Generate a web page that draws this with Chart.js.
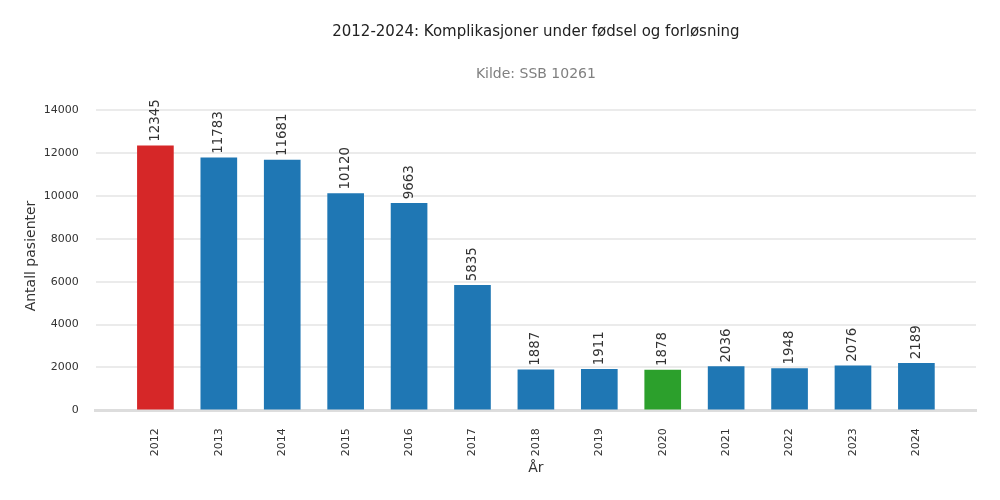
<!DOCTYPE html>
<html>
<head>
<meta charset="utf-8">
<script src="https://cdn.jsdelivr.net/npm/chart.js@4/dist/chart.umd.min.js"></script>
<style>
  html, body { margin: 0; padding: 0; background: #fff; }
  #wrap { width: 1000px; height: 500px; }
</style>
</head>
<body>
<div id="wrap"><canvas id="mycanvas"></canvas></div>
<script>
// data
var years = ['2012','2013','2014','2015','2016','2017','2018','2019','2020','2021','2022','2023','2024'];
var patients = [12345, 11783, 11681, 10120, 9663, 5835, 1887, 1911, 1878, 2036, 1948, 2076, 2189];
var barColors = ['#d62728','#1f77b4','#1f77b4','#1f77b4','#1f77b4','#1f77b4','#1f77b4','#1f77b4','#2ca02c','#1f77b4','#1f77b4','#1f77b4','#1f77b4'];
var yTicks = [0, 2000, 4000, 6000, 8000, 10000, 12000, 14000];

Chart.defaults.font.family = '"DejaVu Sans", sans-serif';
Chart.defaults.color = '#333';

// values written above each bar, turned on their side
var barLabels = {
  id: 'barLabels',
  afterDatasetsDraw: function(chart) {
    var ctx = chart.ctx;
    var meta = chart.getDatasetMeta(0);
    ctx.save();
    ctx.font = '13.4px "DejaVu Sans", sans-serif';
    ctx.fillStyle = '#333';
    ctx.textAlign = 'left';
    ctx.textBaseline = 'middle';
    meta.data.forEach(function(bar, i) {
      ctx.save();
      ctx.translate(bar.x, bar.y - 4);
      ctx.rotate(-Math.PI / 2);
      ctx.fillText(String(patients[i]), 0, 0);
      ctx.restore();
    });
    ctx.restore();
  }
};

var points = [];
for (var i in patients) {
  points.push({ x: Number(i), y: patients[i] });
}

new Chart(document.getElementById('mycanvas'), {
  type: 'bar',
  data: {
    datasets: [{
      data: points,
      backgroundColor: barColors,
      barThickness: 36
    }]
  },
  plugins: [barLabels],
  options: {
    responsive: true,
    maintainAspectRatio: false,
    animation: false,
    layout: { padding: { left: 23, right: 24, top: 0, bottom: 23 } },
    plugins: {
      legend: { display: false },
      tooltip: { enabled: false },
      title: {
        display: true,
        fullSize: false,
        text: '2012-2024: Komplikasjoner under fødsel og forløsning',
        color: '#222',
        font: { size: 15, weight: 'normal' },
        padding: { top: 23, bottom: 24 }
      },
      subtitle: {
        display: true,
        fullSize: false,
        text: 'Kilde: SSB 10261',
        color: '#808080',
        font: { size: 14, weight: 'normal' },
        padding: { top: 1, bottom: 19 }
      }
    },
    scales: {
      x: {
        type: 'linear',
        offset: false,
        min: -0.94,
        max: 12.94,
        afterBuildTicks: function(scale) {
          scale.ticks = years.map(function(_, k) { return { value: k }; });
        },
        ticks: {
          minRotation: 90,
          maxRotation: 90,
          padding: 18,
          font: { size: 11 },
          color: '#333',
          callback: function(v) { return years[v]; }
        },
        grid: { display: false, drawTicks: false },
        border: { display: true, color: '#dddddd', width: 3 },
        title: {
          display: true,
          text: 'År',
          font: { size: 14 },
          color: '#333',
          padding: { top: -14, bottom: 0 }
        }
      },
      y: {
        min: 0,
        max: 14400,
        afterBuildTicks: function(scale) {
          scale.ticks = yTicks.map(function(v) { return { value: v }; });
        },
        ticks: {
          padding: 17,
          font: { size: 11 },
          color: '#333',
          callback: function(v) { return String(v); }
        },
        grid: { color: '#ebebeb', lineWidth: 2, drawTicks: false },
        border: { display: false },
        title: {
          display: true,
          text: 'Antall pasienter',
          font: { size: 14 },
          color: '#333',
          padding: { top: 0, bottom: -13 }
        }
      }
    }
  }
});
</script>
</body>
</html>
